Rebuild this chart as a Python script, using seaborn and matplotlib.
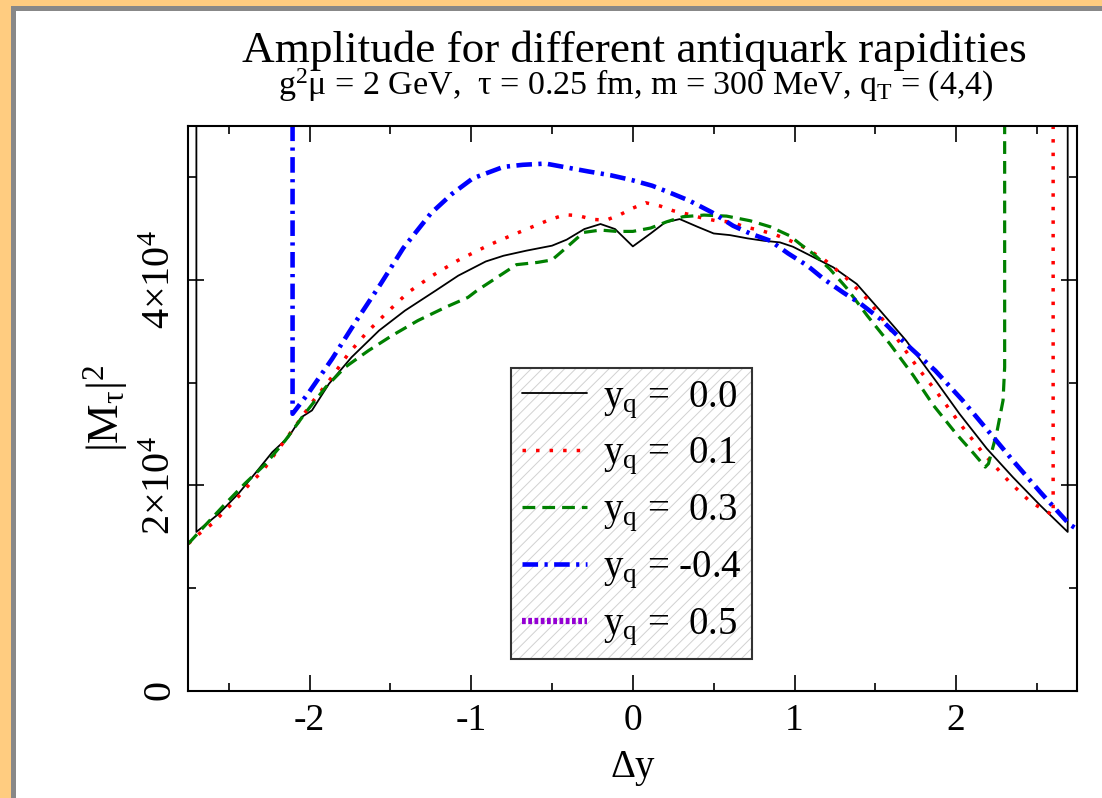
import numpy as np
import pandas as pd
import seaborn as sns
import matplotlib
matplotlib.use("Agg")
import matplotlib.pyplot as plt
from matplotlib.patches import Rectangle
from matplotlib.lines import Line2D
from matplotlib.ticker import FixedLocator, MultipleLocator

# ---------------- data ----------------
x_q00 = [-2.70, -2.70, -2.56, -2.44, -2.33, -2.23, -2.13, -2.05, -1.985, -1.88, -1.74, -1.57,
         -1.41, -1.22, -1.08, -0.91, -0.80, -0.66, -0.50, -0.41, -0.30, -0.20, -0.11, 0.0,
         0.11, 0.20, 0.29, 0.40, 0.50, 0.60, 0.71, 0.81, 0.91, 0.99, 1.10, 1.24, 1.385,
         1.53, 1.69, 1.88, 2.02, 2.19, 2.35, 2.52, 2.69, 2.69]
y_q00 = [90000, 15450, 17240, 19180, 21280, 23230, 24690, 26630, 27290, 29880, 32470, 35070,
         37010, 38960, 40420, 41800, 42360, 42850, 43340, 43920, 44960, 45450, 44960, 43270,
         44530, 45610, 45930, 45180, 44530, 44370, 44050, 43820, 43660, 43240, 42360, 41230, 39610,
         37010, 34100, 30040, 26970, 23560, 20800, 18040, 15450, 90000]

x_q01 = [-2.75, -2.68, -2.60, -2.54, -2.48, -2.42, -2.36, -2.29, -2.24, -2.08, -1.975, -1.87,
         -1.76, -1.645, -1.52, -1.39, -1.24, -1.085, -0.92, -0.84, -0.68, -0.51, -0.42, -0.34,
         -0.25, -0.165, -0.08, 0.0, 0.08, 0.17, 0.25, 0.34, 0.43, 0.515, 0.61, 0.69, 0.78,
         0.87, 0.95, 1.03, 1.18, 1.32, 1.45, 1.61, 1.76, 1.88, 2.04, 2.17, 2.33, 2.46,
         2.60, 2.60]
y_q01 = [14300, 15300, 16270, 17240, 18210, 19240, 20310, 21380, 22490, 25920, 28260, 30370,
         32800, 34900, 36850, 38790, 40420, 41880, 43170, 43750, 44800, 45900, 46350, 46280,
         45900, 45830, 46350, 47000, 47520, 47200, 46740, 46410, 46030, 45770, 45640, 45180, 44860,
         44470, 43990, 43430, 42040, 40190, 38150, 34810, 31500, 29070, 25660, 23070, 20310, 18370,
         17070, 90000]

x_q03 = [-2.75, -2.645, -2.52, -2.40, -2.27, -2.15, -2.03, -1.90, -1.78, -1.635, -1.49, -1.33,
         -1.16, -1.02, -0.965, -0.84, -0.72, -0.59, -0.50, -0.41, -0.305, -0.20, -0.10, 0.0,
         0.11, 0.21, 0.31, 0.44, 0.58, 0.725, 0.85, 0.97, 1.035, 1.12, 1.22, 1.32, 1.45,
         1.59, 1.735, 1.86, 2.00, 2.11, 2.18, 2.20, 2.25, 2.29, 2.30, 2.30]
y_q03 = [14300, 16100, 18210, 20160, 22100, 24370, 26960, 29550, 31500, 33120, 34580, 36040,
         37330, 38300, 38960, 40250, 41490, 41710, 41950, 43170, 44630, 44860, 44730, 44730,
         45060, 45670, 46160, 46320, 46220, 45770, 45180, 44310, 43500, 42500, 41040, 39260, 36520,
         33770, 30690, 27770, 25020, 23070, 21770, 22100, 25020, 28260, 31500, 90000]

x_qm04 = [-2.105, -2.105, -2.01, -1.86, -1.71, -1.56, -1.42, -1.25, -1.12, -0.99, -0.80, -0.68,
          -0.54, -0.41, -0.275, -0.14, -0.006, 0.12, 0.25, 0.35, 0.49, 0.62, 0.725, 0.85,
          0.96, 1.08, 1.18, 1.30, 1.41, 1.53, 1.69, 1.87, 2.04, 2.23, 2.35, 2.52, 2.64,
          2.70, 2.75]
y_qm04 = [90000, 26960, 28910, 32320, 36040, 39610, 43110, 46480, 48370, 49900, 51020, 51220,
          51340, 50960, 50570, 50210, 49730, 49180, 48370, 47720, 46580, 45280, 44530, 43820,
          42590, 41390, 40100, 38790, 37670, 36210, 33770, 31180, 28260, 24690, 22420, 19340, 17240,
          16200, 15700]

labels = ["y$_\\mathrm{q}$ =  0.0", "y$_\\mathrm{q}$ =  0.1", "y$_\\mathrm{q}$ =  0.3",
          "y$_\\mathrm{q}$ = -0.4", "y$_\\mathrm{q}$ =  0.5"]
x_ticks = [-2, -1, 0, 1, 2]
x_ticklabels = ["-2", "-1", "0", "1", "2"]
y_ticks = [0, 20000, 40000]
y_ticklabels = ["0", "2$\\times$10$^4$", "4$\\times$10$^4$"]

title = "Amplitude for different antiquark rapidities"
subtitle = "g$^2$μ = 2 GeV,  τ = 0.25 fm, m = 300 MeV, q$_\\mathrm{T}$ = (4,4)"

# ---------------- style ----------------
sns.set_theme(style="white")
plt.rcParams["font.family"] = ["Liberation Serif", "DejaVu Serif"]
plt.rcParams["mathtext.fontset"] = "custom"
plt.rcParams["mathtext.rm"] = "Liberation Serif"
plt.rcParams["mathtext.it"] = "Liberation Serif:italic"
plt.rcParams["mathtext.bf"] = "Liberation Serif:bold"
plt.rcParams["hatch.linewidth"] = 0.7
for k in ["text.color", "axes.labelcolor", "xtick.color", "ytick.color", "axes.edgecolor"]:
    plt.rcParams[k] = "black"

fig = plt.figure(figsize=(11.02, 7.98), dpi=100, facecolor="#FFCC80")
W, H = 1102.0, 798.0
fig.patches.append(Rectangle((11 / W, 0), 1, (H - 6) / H, transform=fig.transFigure,
                             facecolor="#888888", edgecolor="none", zorder=-10))
fig.patches.append(Rectangle((16 / W, 0), 1, (H - 11) / H, transform=fig.transFigure,
                             facecolor="white", edgecolor="none", zorder=-9))

ax = fig.add_axes([188.3 / W, 1 - 690.5 / H, (1077.4 - 188.3) / W, (690.5 - 126) / H])
ax.set_facecolor("white")

styles = [
    dict(color="black", linewidth=1.3, linestyle="-"),
    dict(color="#FF0000", linewidth=2.5, linestyle=(0, (1, 2.9)), dash_capstyle="butt"),
    dict(color="#008000", linewidth=2.3, linestyle=(0, (4.0, 2.2)), dash_capstyle="butt"),
    dict(color="#0000FF", linewidth=3.3, linestyle=(0, (3.4, 1.4, 0.7, 1.4)), dash_capstyle="butt"),
]
series = [(x_q00, y_q00), (x_q01, y_q01), (x_q03, y_q03), (x_qm04, y_qm04)]
for (xs, ys), st in zip(series, styles):
    df = pd.DataFrame({"x": xs, "y": ys})
    sns.lineplot(data=df, x="x", y="y", ax=ax, estimator=None, sort=False, **st)

ax.set_xlim(-2.75, 2.75)
ax.set_ylim(0, 55000)

ax.xaxis.set_major_locator(FixedLocator(x_ticks))
ax.set_xticklabels(x_ticklabels)
ax.xaxis.set_minor_locator(MultipleLocator(0.5))
ax.yaxis.set_major_locator(FixedLocator(y_ticks))
ax.set_yticklabels(y_ticklabels)
ax.yaxis.set_minor_locator(MultipleLocator(10000))

ax.tick_params(which="both", direction="in", top=True, right=True, bottom=True, left=True,
               colors="black", width=1.2)
ax.tick_params(which="major", length=11.5, labelsize=27, pad=9)
ax.tick_params(which="minor", length=5.8)
ax.tick_params(axis="y", labelrotation=90, pad=7, labelsize=29)
for lab in ax.get_yticklabels():
    lab.set_verticalalignment("center")

for sp in ax.spines.values():
    sp.set_color("black")
    sp.set_linewidth(1.5)

ax.set_xlabel("Δy", fontsize=28, labelpad=8)
ax.set_ylabel("|M$_\\mathrm{\\tau}$|$^2$", fontsize=32, labelpad=8)

fig.text(634 / W, 1 - 62 / H, title, ha="center", va="baseline", fontsize=32.5)
fig.text(636 / W, 1 - 95 / H, subtitle, ha="center", va="baseline", fontsize=24.5)

# legend
handles = [Line2D([], [], **st) for st in styles]
handles.append(Line2D([], [], color="#9400D3", linewidth=4.5, linestyle=(0, (0.6, 0.4)),
                      dash_capstyle="butt"))
leg = ax.legend(handles, labels, loc="upper left", bbox_to_anchor=(511 / W, 1 - 368 / H),
                bbox_transform=fig.transFigure, fontsize=28, frameon=True, fancybox=False,
                handlelength=1.67, handletextpad=0.41, labelspacing=0.39, borderpad=0.28,
                borderaxespad=0, framealpha=1)
frame = leg.get_frame()
frame.set_facecolor("white")
frame.set_edgecolor("#333333")
frame.set_linewidth(1.5)
frame.set_hatch("///")
frame._hatch_color = (0.82, 0.82, 0.82, 1.0)

fig.savefig("out.png", dpi=100, facecolor=fig.get_facecolor())
